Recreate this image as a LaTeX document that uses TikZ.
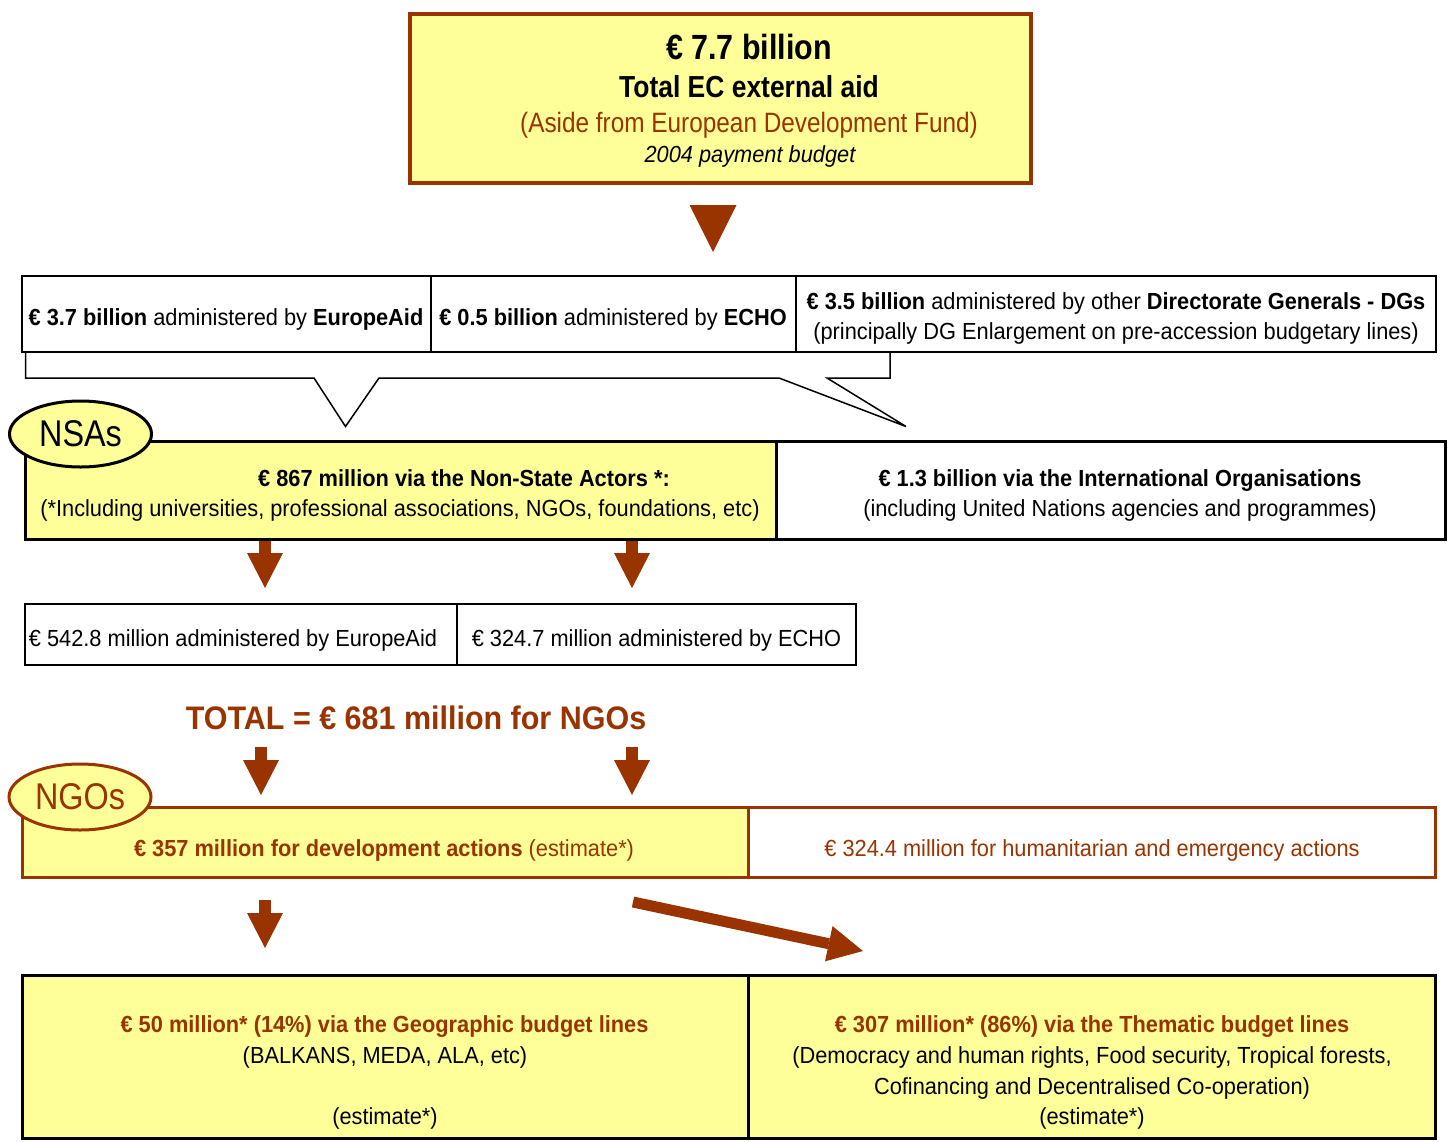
\documentclass[tikz,border=0pt]{standalone}
\usepackage{fontspec}
\setmainfont[FakeStretch=0.935]{Liberation Sans}
\newfontfamily\topfont[FakeStretch=0.87]{Liberation Sans}
\usetikzlibrary{arrows.meta,shapes.geometric}
\definecolor{ylw}{HTML}{FFFF99}
\definecolor{brn}{HTML}{993300}
\begin{document}
\begin{tikzpicture}[x=0.5pt,y=-0.5pt,
  box/.style={rectangle, draw, inner sep=0pt, outer sep=0pt},
  thinbox/.style={box, line width=1pt},
  thickbox/.style={box, line width=1.5pt},
  txt/.style={anchor=base, inner sep=0pt, outer sep=0pt, font=\fontsize{11.65}{14}\selectfont},
  oval/.style={ellipse, line width=1.5pt, fill=ylw, inner sep=0pt, minimum width=71pt, minimum height=33pt, font=\topfont\fontsize{18.6}{22}\selectfont},
  blk/.style={brn, line width=6pt, -{Triangle[width=18pt,length=17.5pt,line width=0pt]}},
  callout/.style={line width=0.75pt, line join=miter}
]
\useasboundingbox (0,0) rectangle (1450,1141);

% top box
\node[box, line width=2pt, draw=brn, fill=ylw, minimum width=310.5pt, minimum height=84.5pt] (top) at (720.5,98.5) {};
\node[txt, font=\topfont\fontsize{17.5}{20}\selectfont\bfseries] (t0a) at (749,59.5) {€ 7.7 billion};
\node[txt, font=\topfont\fontsize{15.2}{18}\selectfont\bfseries] (t0b) at (749,97) {Total EC external aid};
\node[txt, font=\topfont\fontsize{14}{17}\selectfont, text=brn] (t0c) at (749,132) {(Aside from European Development Fund)};
\node[txt, font=\fontsize{11.65}{14}\selectfont\itshape] (t0d) at (750,162.5) {2004 payment budget};

\coordinate (a0s) at (713,205);
\coordinate (a0e) at (713,252);
\draw[brn, line width=0.1pt, -{Triangle[width=23.5pt,length=23.5pt,line width=0pt]}] (a0s) -- (a0e);

% row of three
\node[thinbox, minimum width=204.5pt, minimum height=38pt] (r1) at (226.5,314) {};
\node[thinbox, minimum width=182.5pt, minimum height=38pt] (r2) at (613.5,314) {};
\node[thinbox, minimum width=319.75pt, minimum height=38pt] (r3) at (1115.75,314) {};
\node[txt] (t1) at (226,325) {\textbf{€ 3.7 billion} administered by \textbf{EuropeAid}};
\node[txt] (t2) at (613,325) {\textbf{€ 0.5 billion} administered by \textbf{ECHO}};
\node[txt] (t3a) at (1116,309) {\textbf{€ 3.5 billion} administered by other \textbf{Directorate Generals - DGs}};
\node[txt] (t3b) at (1116,339) {(principally DG Enlargement on pre-accession budgetary lines)};

% callout
\draw[callout] (25.5,352) -- (25.5,378) -- (314,378) -- (345.5,426.5) -- (379,378) -- (779,378) -- (906,426.5) -- (827,378) -- (890,378) -- (890,352);

% NSA / IO
\node[thickbox, fill=ylw, minimum width=375.5pt, minimum height=49pt] (nsa) at (401,490.5) {};
\node[thickbox, minimum width=334.5pt, minimum height=49pt] (io) at (1111,490.5) {};
\node[oval, draw=black] (nsaov) at (80.5,434) {NSAs};
\node[txt, font=\fontsize{11.65}{14}\selectfont\bfseries] (t4a) at (464,486) {€ 867 million via the Non-State Actors *:};
\node[txt] (t4b) at (400,516) {(*Including universities, professional associations, NGOs, foundations, etc)};
\node[txt, font=\fontsize{11.65}{14}\selectfont\bfseries] (t5a) at (1120,486) {€ 1.3 billion via the International Organisations};
\node[txt] (t5b) at (1120,516) {(including United Nations agencies and programmes)};

\coordinate (a1s) at (265,541); \coordinate (a1e) at (265,588);
\coordinate (a2s) at (632,541); \coordinate (a2e) at (632,588);
\draw[blk] (a1s) -- (a1e);
\draw[blk] (a2s) -- (a2e);

% 542.8 / 324.7
\node[thinbox, minimum width=216pt, minimum height=30.5pt] (ea) at (241,634.5) {};
\node[thinbox, minimum width=199.5pt, minimum height=30.5pt] (ec) at (656.5,634.5) {};
\node[txt] (t6) at (233,646) {€ 542.8 million administered by EuropeAid};
\node[txt] (t7) at (656.5,646) {€ 324.7 million administered by ECHO};

% TOTAL
\node[txt, font=\fontsize{16.3}{19}\selectfont\bfseries, text=brn] (tot) at (416,729.5) {TOTAL = € 681 million for NGOs};

\coordinate (a3s) at (261,747); \coordinate (a3e) at (261,795);
\coordinate (a4s) at (632,747); \coordinate (a4e) at (632,795);
\draw[blk] (a3s) -- (a3e);
\draw[blk] (a4s) -- (a4e);

% NGO row
\node[thickbox, draw=brn, fill=ylw, minimum width=363pt, minimum height=35pt] (dev) at (385.5,842.5) {};
\node[thickbox, draw=brn, minimum width=343.5pt, minimum height=35pt] (hum) at (1092,842.5) {};
\node[oval, draw=brn, text=brn] (ngoov) at (80,797) {NGOs};
\node[txt, text=brn] (t8) at (384,856) {\textbf{€ 357 million for development actions} (estimate*)};
\node[txt, text=brn] (t9) at (1092,856) {€ 324.4 million for humanitarian and emergency actions};

\coordinate (a5s) at (265,900); \coordinate (a5e) at (265,948);
\coordinate (a6s) at (633,902); \coordinate (a6e) at (863,951);
\draw[blk] (a5s) -- (a5e);
\draw[blk, line width=5.5pt] (a6s) -- (a6e);

% bottom boxes
\node[thickbox, fill=ylw, minimum width=363pt, minimum height=81.5pt] (geo) at (385.5,1057) {};
\node[thickbox, fill=ylw, minimum width=343.5pt, minimum height=81.5pt] (them) at (1092,1057) {};
\node[txt, font=\fontsize{11.65}{14}\selectfont\bfseries, text=brn] (t10a) at (384.5,1032) {€ 50 million* (14\%) via the Geographic budget lines};
\node[txt] (t10b) at (385,1063) {(BALKANS, MEDA, ALA, etc)};
\node[txt] (t10c) at (385,1124) {(estimate*)};
\node[txt, font=\fontsize{11.65}{14}\selectfont\bfseries, text=brn] (t11a) at (1092,1032) {€ 307 million* (86\%) via the Thematic budget lines};
\node[txt] (t11b) at (1092,1063) {(Democracy and human rights, Food security, Tropical forests,};
\node[txt] (t11c) at (1092,1094) {Cofinancing and Decentralised Co-operation)};
\node[txt] (t11d) at (1092,1124) {(estimate*)};
\end{tikzpicture}
\end{document}
